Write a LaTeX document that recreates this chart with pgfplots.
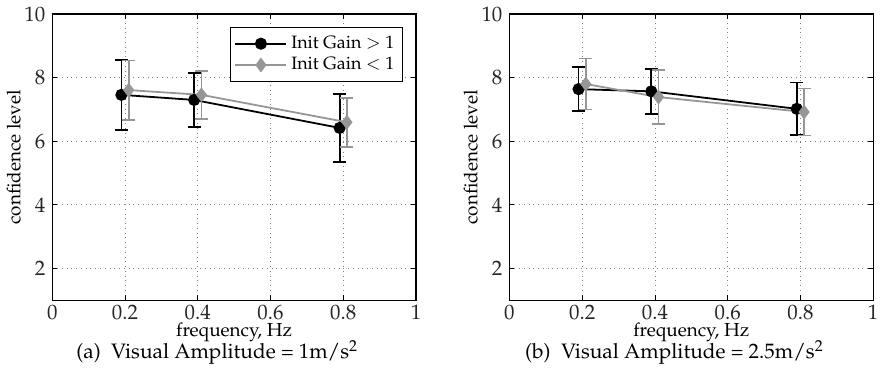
\documentclass[border=0pt]{standalone}
\usepackage[T1]{fontenc}
\usepackage{mathpazo}
\usepackage{pgfplots}
\pgfplotsset{compat=1.18}
\definecolor{mygray}{RGB}{150,150,150}
\pgfplotsset{
  myaxis/.style={
    scale only axis, width=183pt, height=144pt,
    xmin=0, xmax=1, ymin=1, ymax=10,
    xtick={0,0.2,0.4,0.6,0.8,1}, ytick={2,4,6,8,10},
    grid=major, major grid style={dotted, gray, line width=0.4pt},
    tick align=inside, major tick length=2.5pt,
    tick style={black, line width=0.4pt},
    axis line style={line width=0.6pt},
    ticklabel style={font=\fontsize{10.5}{11}\selectfont, text=black!85},
    xticklabel style={yshift=1pt},
    xlabel={frequency, Hz}, ylabel={confidence level},
    label style={font=\fontsize{9.5}{10}\selectfont},
    xlabel style={yshift=5.5pt},
    ylabel style={yshift=-5pt},
    error bars/error mark options={rotate=90, mark size=3.3pt, line width=0.9pt},
    error bars/error bar style={line width=0.9pt},
  },
  blk/.style={black, line width=0.9pt, mark=*, mark size=2.6pt,
    error bars/.cd, y dir=both, y explicit},
  gry/.style={mygray, line width=0.9pt, mark=diamond*, mark size=3pt,
    error bars/.cd, y dir=both, y explicit},
}
\begin{document}
\begin{tikzpicture}
\begin{axis}[myaxis, at={(0,0)}, name=A,
  legend style={at={(rel axis cs:0.965,0.955)}, anchor=north east, font=\fontsize{9}{10}\selectfont, draw=black, line width=0.5pt, row sep=-1pt, inner sep=2.3pt},
  legend cell align=left,
  legend image code/.code={\draw[mark repeat=2, mark phase=2, #1] plot coordinates {(0cm,0cm) (0.45cm,0cm) (0.9cm,0cm)};}]
\addplot[blk] coordinates {(0.19,7.46) +- (0,1.10) (0.39,7.30) +- (0,0.85) (0.79,6.42) +- (0,1.07)};
\addlegendentry{Init Gain $>$ 1}
\addplot[gry] coordinates {(0.21,7.61) +- (0,0.93) (0.41,7.46) +- (0,0.75) (0.81,6.60) +- (0,0.77)};
\addlegendentry{Init Gain $<$ 1}
\end{axis}
\begin{axis}[myaxis, at={(230pt,0)}, name=B]
\addplot[blk] coordinates {(0.19,7.64) +- (0,0.69) (0.39,7.57) +- (0,0.70) (0.79,7.02) +- (0,0.83)};
\addplot[gry] coordinates {(0.21,7.80) +- (0,0.80) (0.41,7.39) +- (0,0.84) (0.81,6.92) +- (0,0.74)};
\end{axis}
\node[font=\fontsize{10.5}{11}\selectfont, anchor=base] at ([xshift=-8.5pt,yshift=-29.5pt]A.south) {(a)\ \ Visual Amplitude = 1m/s$^2$};
\node[font=\fontsize{10.5}{11}\selectfont, anchor=base] at ([xshift=-8.5pt,yshift=-29.5pt]B.south) {(b)\ \ Visual Amplitude = 2.5m/s$^2$};
\end{tikzpicture}
\end{document}
